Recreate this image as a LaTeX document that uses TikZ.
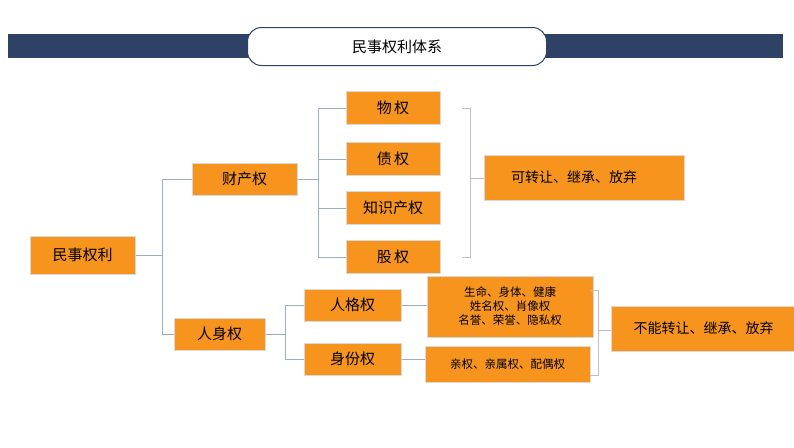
\documentclass[tikz,border=0pt]{standalone}
\usepackage{fontspec}
\setmainfont{Noto Sans CJK SC}
\definecolor{navy}{HTML}{2E4266}
\definecolor{org}{HTML}{F7941D}
\definecolor{ln}{HTML}{9AAFC4}
\begin{document}
\begin{tikzpicture}[x=1pt,y=-1pt,
 ob/.style={fill=org,draw=black!15,line width=1pt,inner sep=0pt},
 lk/.style={draw=ln,line width=0.8pt},
 br/.style={draw=black!25,line width=0.6pt}]
\useasboundingbox (0,0) rectangle (794,447);
\fill[navy] (8,34) rectangle (783,58);
\node[draw=navy,line width=1pt,fill=white,rounded corners=14pt,minimum width=299pt,minimum height=38pt,font=\fontsize{15}{18}\selectfont] (t) at (397,46.5) {民事权利体系};
\node[ob,minimum width=105pt,minimum height=38pt,font=\fontsize{15}{18}\selectfont] (a) at (82.5,255) {民事权利};
\node[ob,minimum width=105pt,minimum height=32pt,font=\fontsize{15}{18}\selectfont] (b) at (244.5,179) {财产权};
\node[ob,minimum width=91pt,minimum height=32pt,font=\fontsize{15}{18}\selectfont] (c) at (219.5,334) {人身权};
\foreach \n/\y/\t in {w/108/物\,权,z/159/债\,权,k/208/知识产权,g/257/股\,权}
  \node[ob,minimum width=94pt,minimum height=33pt,font=\fontsize{15}{18}\selectfont] (\n) at (393,\y) {\t};
\node[ob,minimum width=97pt,minimum height=32pt,font=\fontsize{15}{18}\selectfont] (p) at (352.5,305) {人格权};
\node[ob,minimum width=97pt,minimum height=32pt,font=\fontsize{15}{18}\selectfont] (s) at (352.5,359) {身份权};
\node[ob,minimum width=166pt,minimum height=61pt,align=center,font=\fontsize{11.5}{14}\selectfont] (d1) at (510,306.5) {生命、身体、健康\\姓名权、肖像权\\名誉、荣誉、隐私权};
\node[ob,minimum width=165pt,minimum height=36pt,font=\fontsize{11.5}{14}\selectfont] (d2) at (507.5,364) {亲权、亲属权、配偶权};
\node[ob,minimum width=200pt,minimum height=45pt,font=\fontsize{14}{17}\selectfont] (e1) at (584,177.5) {\hspace*{-20pt}可转让、继承、放弃};
\node[ob,minimum width=190pt,minimum height=45pt,anchor=west,font=\fontsize{14}{17}\selectfont] (e2) at (611,328.5) {\hspace*{-6pt}不能转让、继承、放弃};
\draw[lk] (a.east) -- (162,255) (162,179) -- (162,334) (162,179) -- (b.west) (162,334) -- (c.west);
\draw[lk] (b.east) -- (318,179) (318,108) -- (318,257);
\foreach \n in {w,z,k,g} \draw[lk] (318,0 |- \n.west) -- (\n.west);
\draw[lk] (c.east) -- (285,334) (285,305) -- (285,359) (285,305) -- (p.west) (285,359) -- (s.west);
\draw[lk] (p.east) -- (d1.west |- p.east);
\draw[lk] (s.east) -- (d2.west |- s.east);
\draw[br] (462,108) -- (470,108) -- (470,257) -- (462,257) (470,178) -- (e1.west |- 0,178);
\draw[br] (590,290) -- (598,290) -- (598,375) -- (590,375) (598,330) -- (e2.west |- 0,330);
\end{tikzpicture}
\end{document}
